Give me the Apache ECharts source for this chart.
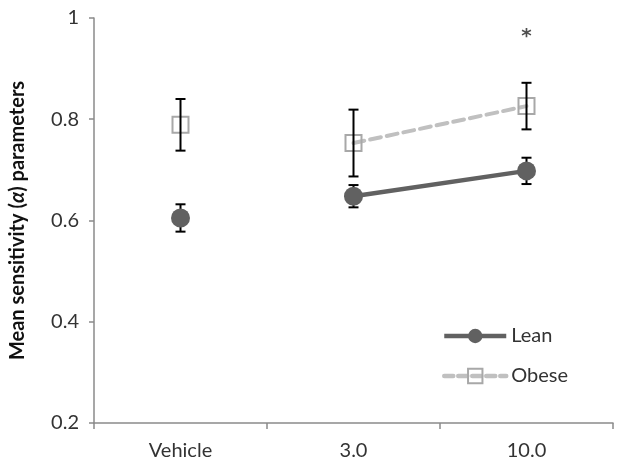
<!DOCTYPE html>
<html>
<head>
<meta charset="utf-8">
<script src="https://cdn.jsdelivr.net/npm/echarts@6/dist/echarts.min.js"></script>
<style>html,body{margin:0;padding:0;background:#fff;}#c{width:624px;height:469px;}</style>
</head>
<body>
<div id="c"></div>
<script>
var categories = ['Vehicle', '3.0', '10.0'];
var leanMean = [0.605, 0.648, 0.698];
var leanErr = [0.027, 0.022, 0.026];
var obeseMean = [0.789, 0.753, 0.826];
var obeseErr = [0.051, 0.066, 0.046];
var sigMarks = [['10.0', 0.962, '*']];
var yTicks = { min: 0.2, max: 1, interval: 0.2 };

var FONT = 'Lato, "Open Sans", sans-serif';
var leanColor = '#616161';
var obeseLine = '#c0c0c0';
var obeseEdge = '#a8a8a8';

function lineData(arr) { return arr.map(function (v, i) { return i === 0 ? '-' : v; }); }
function pointData(arr) { return arr.map(function (v, i) { return i === 0 ? v : '-'; }); }

var errData = [];
for (var i = 0; i < categories.length; i++) {
  errData.push([i, leanMean[i], leanErr[i]]);
  errData.push([i, obeseMean[i], obeseErr[i]]);
}

var chart = echarts.init(document.getElementById('c'), null, { renderer: 'canvas' });
chart.setOption({
  animation: false,
  backgroundColor: '#fff',
  grid: { left: 86, right: 11, top: 18, bottom: 46, containLabel: false },
  xAxis: {
    type: 'category',
    data: categories,
    boundaryGap: true,
    axisLine: { lineStyle: { color: '#8a8a8a', width: 1.5 } },
    axisTick: { show: true, length: 6, lineStyle: { color: '#8a8a8a', width: 1.5 } },
    axisLabel: { color: '#333', fontSize: 20, fontFamily: FONT, margin: 18 },
    splitLine: { show: false }
  },
  yAxis: {
    type: 'value',
    min: yTicks.min, max: yTicks.max, interval: yTicks.interval,
    axisLine: { show: true, lineStyle: { color: '#8a8a8a', width: 1.5 } },
    axisTick: { show: true, length: 5, lineStyle: { color: '#8a8a8a', width: 1.5 } },
    axisLabel: {
      color: '#333', fontSize: 20, fontFamily: FONT, margin: 15,
      formatter: function (v) { return Math.abs(v - 1) < 1e-9 ? '1' : v.toFixed(1); }
    },
    splitLine: { show: false },
    name: 'Mean sensitivity ({i|α}) parameters',
    nameLocation: 'middle',
    nameGap: 66,
    nameTextStyle: {
      fontSize: 20, fontWeight: 'bold', fontFamily: FONT, color: '#111',
      rich: { i: { fontSize: 20, fontWeight: 'bold', fontStyle: 'italic', fontFamily: FONT, color: '#111' } }
    }
  },
  legend: {
    orient: 'vertical',
    left: 437, top: 321,
    itemWidth: 62, itemHeight: 18, itemGap: 20,
    data: [
      { name: 'Lean', lineStyle: { width: 4.5, color: leanColor } },
      { name: 'Obese', lineStyle: { width: 4.5, color: obeseLine, type: [9, 5] } }
    ],
    textStyle: { fontSize: 20, fontFamily: FONT, color: '#333' }
  },
  series: [
    {
      name: 'Obese', type: 'line', z: 3,
      data: lineData(obeseMean),
      symbol: 'rect', symbolSize: 16,
      itemStyle: { color: 'rgba(255,255,255,0)', borderColor: obeseEdge, borderWidth: 2 },
      lineStyle: { color: obeseLine, width: 4, type: [11, 6], cap: 'round' }
    },
    {
      name: 'Obese', type: 'line', z: 3,
      data: pointData(obeseMean),
      symbol: 'rect', symbolSize: 16,
      itemStyle: { color: 'rgba(255,255,255,0)', borderColor: obeseEdge, borderWidth: 2 },
      lineStyle: { width: 0 }
    },
    {
      name: 'err', type: 'custom', z: 4,
      data: errData,
      renderItem: function (params, api) {
        var x = api.value(0), m = api.value(1), e = api.value(2);
        var top = api.coord([x, m + e]);
        var bot = api.coord([x, m - e]);
        var hw = 5;
        var st = { stroke: '#000', lineWidth: 2 };
        return {
          type: 'group',
          children: [
            { type: 'line', shape: { x1: top[0], y1: top[1], x2: bot[0], y2: bot[1] }, style: st },
            { type: 'line', shape: { x1: top[0] - hw, y1: top[1], x2: top[0] + hw, y2: top[1] }, style: st },
            { type: 'line', shape: { x1: bot[0] - hw, y1: bot[1], x2: bot[0] + hw, y2: bot[1] }, style: st }
          ]
        };
      },
      silent: true
    },
    {
      name: 'Lean', type: 'line', z: 5,
      data: lineData(leanMean),
      symbol: 'circle', symbolSize: 19,
      itemStyle: { color: leanColor },
      lineStyle: { color: leanColor, width: 4.5 }
    },
    {
      name: 'Lean', type: 'line', z: 5,
      data: pointData(leanMean),
      symbol: 'circle', symbolSize: 19,
      itemStyle: { color: leanColor },
      lineStyle: { width: 0 }
    },
    {
      name: 'sig', type: 'scatter', z: 6,
      data: sigMarks.map(function (d) { return [d[0], d[1]]; }),
      symbolSize: 0,
      label: {
        show: true, position: 'inside', fontSize: 20, fontWeight: 'bold', fontFamily: '"DejaVu Sans", sans-serif', color: '#222',
        formatter: function (p) { return sigMarks[p.dataIndex][2]; }
      }
    }
  ]
});
</script>
</body>
</html>
